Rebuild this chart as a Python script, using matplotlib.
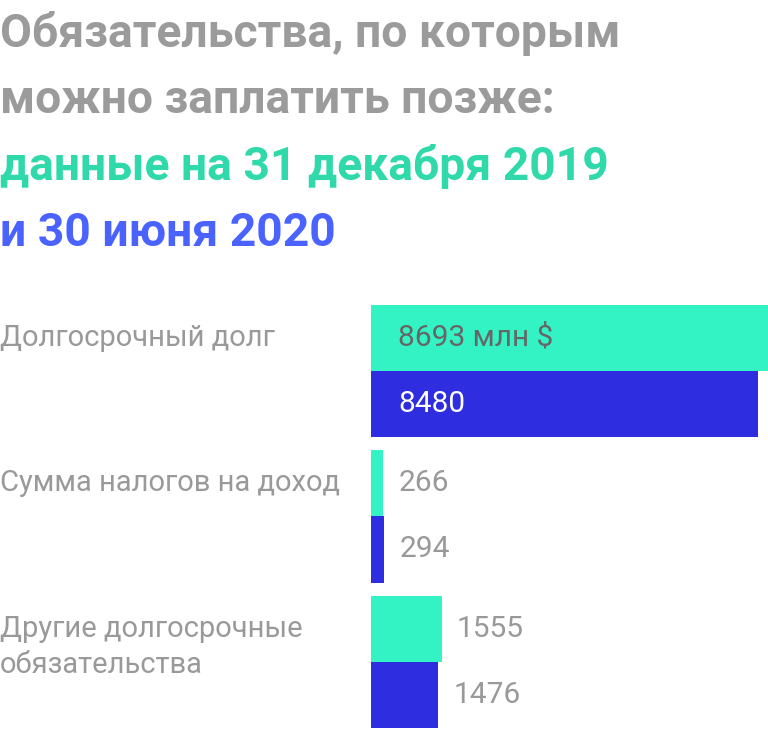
import matplotlib
matplotlib.use('Agg')
import matplotlib.pyplot as plt
import matplotlib.transforms as mtransforms
import numpy as np

categories = ['Долгосрочный долг', 'Сумма налогов на доход', 'Другие долгосрочные\nобязательства']
values_2019 = [8693, 266, 1555]
values_2020 = [8480, 294, 1476]
labels_2019 = ['8693 млн $', '266', '1555']
labels_2020 = ['8480', '294', '1476']

title_lines = ['Обязательства, по которым', 'можно заплатить позже:',
               'данные на 31 декабря 2019', 'и 30 июня 2020']

TEAL = '#33f3c5'
BLUE = '#2e2ee0'
GRAY = '#999999'
plt.rcParams['font.family'] = ['Roboto', 'DejaVu Sans']

W, H = 768, 731
fig = plt.figure(figsize=(W / 100, H / 100), dpi=100)

# title, line by line
title_colors = ['#9b9b9b', '#9b9b9b', '#2fd9a9', '#4a63ff']
baselines = [47, 113, 180, 246]
for line, col, yb in zip(title_lines, title_colors, baselines):
    fig.text(0, 1 - yb / H, line, color=col, fontsize=33.3, fontweight='bold',
             ha='left', va='baseline')

h = 0.455
top_px, bot_px, left_px = 304.7, 728, 371
ax = fig.add_axes([left_px / W, 1 - bot_px / H, (W - left_px) / W, (bot_px - top_px) / H])
ax.set_xlim(0, max(values_2019))
ax.set_ylim(2 + h, -h)
ax.axis('off')

y = np.arange(len(categories))
ax.barh(y - h / 2, values_2019, height=h, color=TEAL)
ax.barh(y + h / 2, values_2020, height=h, color=BLUE)

inside_pad = 27 * max(values_2019) / (W - left_px)
outside_pad = 15 * max(values_2019) / (W - left_px)
blend = mtransforms.blended_transform_factory(fig.transFigure, ax.transData)
for i in range(len(categories)):
    for v, lab, yy, inside_col in [(values_2019[i], labels_2019[i], y[i] - h / 2, '#666666'),
                                   (values_2020[i], labels_2020[i], y[i] + h / 2, 'white')]:
        if v > 3000:
            ax.text(inside_pad, yy, lab, color=inside_col, fontsize=21.5, va='center', ha='left')
        else:
            ax.text(v + outside_pad, yy, lab, color=GRAY, fontsize=21.5, va='center', ha='left')
    # category label, first line centred on the top bar, next lines 36 px lower
    for j, part in enumerate(categories[i].split('\n')):
        tr = mtransforms.offset_copy(blend, fig=fig, x=0, y=-36 * j, units='dots')
        fig.text(0, y[i] - h / 2, part, color=GRAY, fontsize=21, ha='left', va='center',
                 transform=tr)

fig.savefig('out.png', dpi=100)
